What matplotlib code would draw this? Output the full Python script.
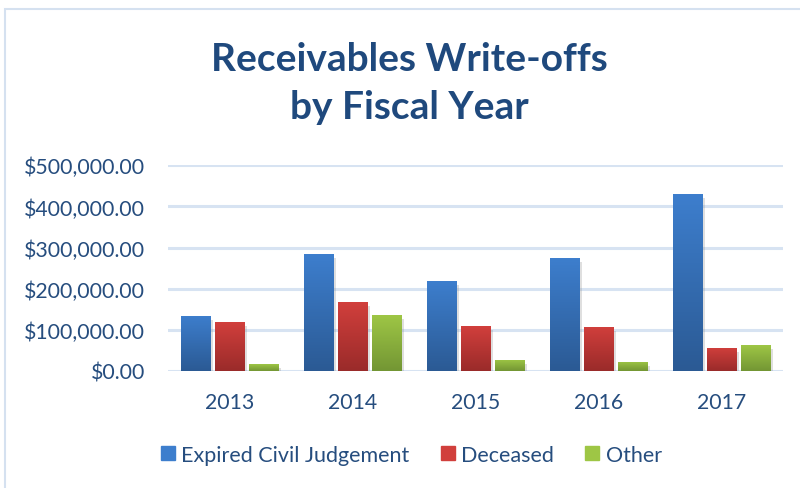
import matplotlib
matplotlib.use("Agg")
import matplotlib.pyplot as plt
import numpy as np
from matplotlib import patheffects as pe
from matplotlib.patches import Rectangle
from matplotlib.ticker import FuncFormatter

years = ["2013", "2014", "2015", "2016", "2017"]
series_names = ["Expired Civil Judgement", "Deceased", "Other"]
expired = [134000, 284000, 218000, 274000, 430000]
deceased = [119000, 167000, 109000, 107000, 56000]
other = [17000, 136000, 27000, 22000, 63000]
yticks = [0, 100000, 200000, 300000, 400000, 500000]

tops = ["#3D7ECD", "#D13F3C", "#9EC645"]
bots = ["#2B5A94", "#9A2B2A", "#739634"]
text_color = "#264d7e"

plt.rcParams['font.family'] = ['Lato', 'DejaVu Sans']

fig = plt.figure(figsize=(8, 4.89), dpi=100)
ax = fig.add_axes([0.21, 0.2393, 0.769, 0.4207])

# chart border
fig.add_artist(Rectangle((0.006, -0.1), 1.2, 1.08, transform=fig.transFigure,
                         fill=False, edgecolor="#d5e1f0", lw=1.5))

x = np.arange(len(years))
width = 0.236
offsets = [-0.276, 0.0, 0.276]
data = [expired, deceased, other]

for i, vals in enumerate(data):
    c1 = np.array(matplotlib.colors.to_rgb(tops[i]))
    c2 = np.array(matplotlib.colors.to_rgb(bots[i]))
    grad = np.linspace(0, 1, 100)[:, None, None]
    img = c1 * (1 - grad) + c2 * grad
    bars = ax.bar(x + offsets[i], vals, width, color=tops[i], zorder=3,
                  label=series_names[i])
    for b, v in zip(bars, vals):
        b.set_path_effects([pe.SimplePatchShadow(offset=(2, -3), shadow_rgbFace="#808080", alpha=0.25),
                            pe.Normal()])
        im = ax.imshow(img, extent=(b.get_x(), b.get_x() + b.get_width(), 0, v),
                       aspect='auto', zorder=4, origin='upper')
        im.set_clip_path(b)

ax.set_xlim(-0.5, 4.5)
ax.set_ylim(0, 500000)
ax.set_yticks(yticks)
ax.yaxis.set_major_formatter(FuncFormatter(lambda v, p: "${:,.2f}".format(v)))
ax.set_xticks(x)
ax.set_xticklabels(years)
ax.grid(axis='y', color="#d7e3f2", lw=2.2, zorder=0)
ax.set_axisbelow(True)
for s in ax.spines.values():
    s.set_visible(False)
ax.tick_params(axis='both', length=0, labelsize=15.3, labelcolor=text_color)
ax.tick_params(axis='y', pad=16.5)
ax.tick_params(axis='x', pad=15)

fig.text(0.512, 0.83, "Receivables Write-offs\nby Fiscal Year", ha='center', va='center',
         fontsize=28, fontweight='bold', color="#1f497d", linespacing=1.45)

handles = [Rectangle((0, 0), 1, 1, color=tops[i]) for i in range(3)]
leg = fig.legend(handles, series_names, loc='center', bbox_to_anchor=(0.514, 0.068), ncol=3,
                 frameon=False, fontsize=15.5, handlelength=0.65, handleheight=0.65,
                 handletextpad=0.3, columnspacing=1.45, labelcolor=text_color)

fig.savefig("out.png", dpi=100)
